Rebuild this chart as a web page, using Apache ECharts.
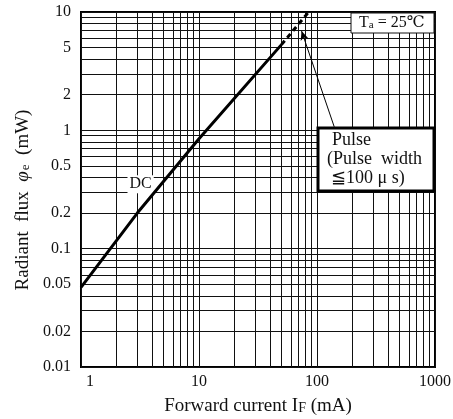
<!DOCTYPE html>
<html><head><meta charset="utf-8">
<script src="https://cdn.jsdelivr.net/npm/echarts@6/dist/echarts.min.js"></script>
<style>html,body{margin:0;padding:0;background:#fff}#c{width:453px;height:419px}</style>
</head><body><div id="c"></div>
<script>
// Radiant flux vs forward current (log-log)
const currentDC = [1, 3, 10, 50];
const fluxDC = [0.047, 0.2, 0.85, 5.3];
const currentPulse = [50, 85];
const fluxPulse = [5.3, 10];
const xTickLabels = [1, 10, 100, 1000];
const yTickLabels = [0.01, 0.02, 0.05, 0.1, 0.2, 0.5, 1, 2, 5, 10];
const dcLabelAt = [3.2, 0.35];
const pulseArrowFrom = [140, 1.07];
const pulseArrowTo = [74, 6.9];

const SERIF = "'Liberation Serif', 'DejaVu Serif', serif";

// full 1..9 grid per decade
function decadeGrid(lo, hi) {
  const out = [];
  for (let d = lo; d < hi; d *= 10) {
    for (let k = 1; k < 10; k++) out.push(+(k * d).toPrecision(6));
  }
  out.push(hi);
  return out;
}
const xGrid = decadeGrid(1, 1000);
const yGrid = decadeGrid(0.01, 10);

const gridLineStyle = { color: '#111', width: 1, type: 'solid' };

const gridMarks = [];
xGrid.forEach(v => gridMarks.push({ xAxis: v, lineStyle: gridLineStyle, label: { show: false } }));
yGrid.forEach(v => {
  const shown = yTickLabels.some(t => Math.abs(t - v) < 1e-9);
  gridMarks.push({
    yAxis: v,
    lineStyle: gridLineStyle,
    label: {
      show: shown, position: 'start', distance: 10,
      align: 'right', verticalAlign: 'middle',
      formatter: String(v), color: '#111', fontFamily: SERIF, fontSize: 16
    }
  });
});

const chart = echarts.init(document.getElementById('c'), null, { renderer: 'canvas' });
chart.setOption({
  animation: false,
  backgroundColor: '#fff',
  grid: {
    left: 81, right: 18, top: 12, bottom: 52,
    containLabel: false, outerBoundsMode: 'none',
    show: true, borderColor: '#000', borderWidth: 2, backgroundColor: 'transparent'
  },
  xAxis: {
    type: 'log', logBase: 10, min: 1, max: 1000,
    name: '{n|Forward current I}{s|F}{n| (mA)}',
    nameLocation: 'middle', nameGap: 30,
    nameTextStyle: {
      rich: {
        n: { fontFamily: SERIF, fontSize: 19, color: '#111' },
        s: { fontFamily: SERIF, fontSize: 14, color: '#111', padding: [3, 0, 0, 0] }
      }
    },
    axisLine: { show: true, lineStyle: { color: '#000', width: 2 } },
    axisTick: { show: false },
    splitLine: { show: false },
    axisLabel: {
      margin: 7,
      formatter: v => (xTickLabels.includes(v) ? (v === 1 ? '{o|1}' : '{t|' + v + '}') : ''),
      rich: {
        t: { fontFamily: SERIF, fontSize: 16, color: '#111' },
        o: { fontFamily: SERIF, fontSize: 16, color: '#111', padding: [0, 0, 0, 18] }
      }
    }
  },
  yAxis: {
    type: 'log', logBase: 10, min: 0.01, max: 10,
    axisLine: { show: true, lineStyle: { color: '#000', width: 2 } },
    axisTick: { show: false },
    splitLine: { show: false },
    axisLabel: { show: false }
  },
  series: [
    {
      name: 'grid', type: 'line', data: [], silent: true, z: 1,
      markLine: { silent: true, z: 1, symbol: ['none', 'none'], animation: false, data: gridMarks }
    },
    {
      name: 'DC', type: 'line', z: 5,
      data: currentDC.map((x, i) => [x, fluxDC[i]]),
      showSymbol: false,
      lineStyle: { color: '#000', width: 3 },
      markPoint: {
        symbol: 'rect', symbolSize: 0,
        data: [{ coord: dcLabelAt, value: 'DC' }],
        label: {
          show: true, position: 'inside', formatter: 'DC',
          fontFamily: SERIF, fontSize: 16, color: '#111',
          backgroundColor: '#fff', padding: [1, 2]
        }
      }
    },
    {
      name: 'Pulse', type: 'line', z: 5,
      data: currentPulse.map((x, i) => [x, fluxPulse[i]]),
      showSymbol: false,
      lineStyle: { color: '#000', width: 3, type: [5, 4] },
      markLine: {
        silent: true, symbol: ['none', 'arrow'], symbolSize: [6, 9],
        lineStyle: { color: '#000', width: 1, type: 'solid' },
        label: { show: false },
        data: [[{ coord: pulseArrowFrom }, { coord: pulseArrowTo }]]
      }
    }
  ],
  graphic: [
    {
      type: 'text', x: 23, y: 200, rotation: Math.PI / 2, z: 100,
      style: {
        text: '{n|Radiant  flux  }{p|φ}{s|e}{n|  (mW)}',
        align: 'center', verticalAlign: 'middle',
        rich: {
          n: { fontFamily: SERIF, fontSize: 19, fill: '#111' },
          p: { fontFamily: SERIF, fontSize: 19, fontStyle: 'italic', fill: '#111' },
          s: { fontFamily: SERIF, fontSize: 13, fill: '#111', padding: [5, 0, 0, 1] }
        }
      }
    },
    { type: 'rect', z: 100, shape: { x: 351, y: 13, width: 83, height: 20 }, style: { fill: '#fff', stroke: '#111', lineWidth: 1 } },
    {
      type: 'text', x: 359, y: 14, z: 101,
      style: {
        text: '{t|T}{s|a}{t| = 25℃}',
        rich: {
          t: { fontFamily: SERIF, fontSize: 16, fill: '#111' },
          s: { fontFamily: SERIF, fontSize: 11, fill: '#111', padding: [6, 0, 0, 0] }
        }
      }
    },
    { type: 'rect', z: 100, shape: { x: 318, y: 128, width: 116, height: 63 }, style: { fill: '#fff', stroke: '#000', lineWidth: 3 } },
    { type: 'text', z: 101, x: 332, y: 140, style: { text: 'Pulse', font: '18px ' + SERIF, fill: '#111', verticalAlign: 'middle' } },
    { type: 'text', z: 101, x: 327, y: 159, style: { text: '(Pulse  width', font: '18px ' + SERIF, fill: '#111', verticalAlign: 'middle' } },
    { type: 'text', z: 101, x: 331, y: 178, style: { text: '≦100 μ s)', font: '18px ' + SERIF, fill: '#111', verticalAlign: 'middle' } }
  ]
});
</script>
</body></html>
